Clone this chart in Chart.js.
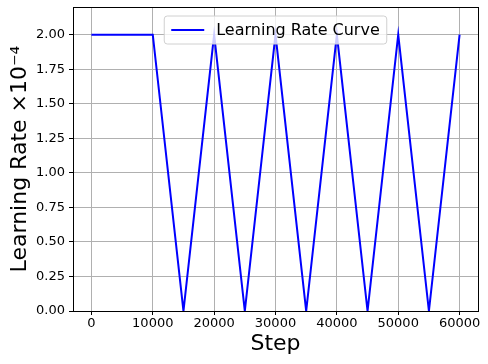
<!DOCTYPE html>
<html>
<head>
<meta charset="utf-8">
<script src="https://cdn.jsdelivr.net/npm/chart.js@4/dist/chart.umd.min.js"></script>
<style>
html,body{margin:0;padding:0;background:#fff;}
#wrap{width:488px;height:364px;position:relative;}
</style>
</head>
<body>
<div id="wrap"><canvas id="c" width="488" height="364"></canvas></div>
<script>
const steps = [0, 10000, 15000, 20000, 25000, 30000, 35000, 40000, 45000, 50000, 55000, 60000];
const learningRate = [2.0, 2.0, 0.0, 2.0, 0.0, 2.0, 0.0, 2.0, 0.0, 2.0, 0.0, 2.0];
const xTicks = [0, 10000, 20000, 30000, 40000, 50000, 60000];
const yTicks = [0, 0.25, 0.5, 0.75, 1.0, 1.25, 1.5, 1.75, 2.0];
const seriesLabel = 'Learning Rate Curve';
const xTitle = 'Step';
const yTitle = 'Learning Rate ×10⁻⁴';

const FONT = "'DejaVu Sans', sans-serif";

const framePlugin = {
  id: 'frame',
  afterDatasetsDraw(chart) {
    const {ctx, chartArea: a} = chart;
    ctx.save();
    ctx.strokeStyle = '#000';
    ctx.lineWidth = 1;
    ctx.strokeRect(Math.round(a.left) + 0.5, Math.round(a.top) + 0.5, Math.round(a.right - a.left), Math.round(a.bottom - a.top));
    ctx.restore();
  },
  afterDraw(chart) {
    const {ctx, chartArea: a} = chart;
    const ds = chart.data.datasets[0];
    ctx.save();
    ctx.font = '16px ' + FONT;
    const text = ds.label;
    const tw = ctx.measureText(text).width;
    const lineLen = 33, gap = 12, padX = 7, h = 28;
    const w = padX + lineLen + gap + tw + padX;
    const x0 = (a.left + a.right) / 2 - w / 2;
    const y0 = a.top + 9;
    ctx.fillStyle = 'rgba(255,255,255,0.8)';
    ctx.strokeStyle = '#d0d0d0';
    ctx.lineWidth = 1;
    const r = 3;
    ctx.beginPath();
    ctx.moveTo(x0 + r, y0);
    ctx.lineTo(x0 + w - r, y0);
    ctx.quadraticCurveTo(x0 + w, y0, x0 + w, y0 + r);
    ctx.lineTo(x0 + w, y0 + h - r);
    ctx.quadraticCurveTo(x0 + w, y0 + h, x0 + w - r, y0 + h);
    ctx.lineTo(x0 + r, y0 + h);
    ctx.quadraticCurveTo(x0, y0 + h, x0, y0 + h - r);
    ctx.lineTo(x0, y0 + r);
    ctx.quadraticCurveTo(x0, y0, x0 + r, y0);
    ctx.closePath();
    ctx.fill();
    ctx.stroke();
    ctx.strokeStyle = ds.borderColor;
    ctx.lineWidth = 2;
    ctx.beginPath();
    ctx.moveTo(x0 + padX, y0 + h / 2);
    ctx.lineTo(x0 + padX + lineLen, y0 + h / 2);
    ctx.stroke();
    ctx.fillStyle = '#000';
    ctx.textBaseline = 'middle';
    ctx.fillText(text, x0 + padX + lineLen + gap, y0 + h / 2 + 1);
    ctx.restore();
  }
};

new Chart(document.getElementById('c'), {
  type: 'line',
  data: {
    datasets: [{
      label: seriesLabel,
      data: steps.map((s, i) => ({x: s, y: learningRate[i]})),
      borderColor: '#0000ff',
      borderWidth: 2,
      pointRadius: 0,
      tension: 0,
      fill: false
    }]
  },
  options: {
    responsive: false,
    animation: false,
    layout: {padding: {top: 7, right: 10, left: 0, bottom: 0}},
    plugins: {legend: {display: false}, tooltip: {enabled: false}},
    scales: {
      x: {
        type: 'linear',
        min: -3000,
        max: 63000,
        afterBuildTicks(scale) { scale.ticks = xTicks.map(v => ({value: v})); },
        afterFit(scale) { scale.height = 53; scale.paddingLeft = 0; scale.paddingRight = 0; },
        ticks: {color: '#000', font: {family: FONT, size: 13}, padding: 1, maxRotation: 0, autoSkip: false,
                callback: v => String(v)},
        grid: {color: '#b0b0b0', lineWidth: 1, tickLength: 4, tickColor: '#000', drawOnChartArea: true},
        border: {display: true, color: '#000', width: 1},
        title: {display: true, text: xTitle, color: '#000', font: {family: FONT, size: 22}, padding: {top: 0, bottom: 7}}
      },
      y: {
        min: 0,
        max: 2.2,
        afterBuildTicks(scale) { scale.ticks = yTicks.map(v => ({value: v})); },
        afterFit(scale) { scale.width = 73; scale.paddingTop = 0; scale.paddingBottom = 0; },
        ticks: {color: '#000', font: {family: FONT, size: 13}, padding: 4, autoSkip: false,
                callback: v => v.toFixed(2)},
        grid: {color: '#b0b0b0', lineWidth: 1, tickLength: 4, tickColor: '#000'},
        border: {display: true, color: '#000', width: 1},
        title: {display: true, text: yTitle, color: '#000', font: {family: FONT, size: 22}, padding: {top: 7, bottom: 0}}
      }
    }
  },
  plugins: [framePlugin]
});
</script>
</body>
</html>
